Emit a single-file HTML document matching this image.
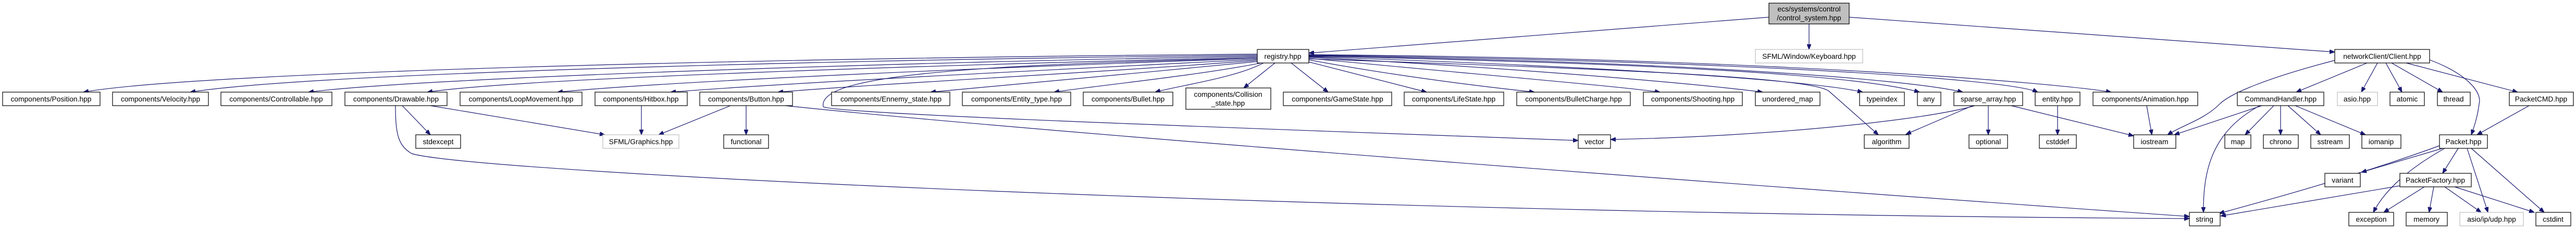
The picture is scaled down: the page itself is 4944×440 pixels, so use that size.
<!DOCTYPE html>
<html><head><meta charset="utf-8"><style>
html,body{margin:0;padding:0;background:#fff;}
svg{display:block;}
text{font-family:"Liberation Sans",sans-serif;font-size:13.8px;fill:#000;}
.b{fill:#fff;stroke:#000;stroke-width:1.2;}
.g{fill:#fff;stroke:#bfbfbf;stroke-width:1.2;}
.t{fill:#bfbfbf;stroke:#000;stroke-width:1.2;}
path.e{fill:none;stroke:#191970;stroke-width:1.2;marker-end:url(#a);}
</style></head><body>
<svg width="4944" height="440" viewBox="0 0 4944 440" xmlns="http://www.w3.org/2000/svg">
<defs><marker id="a" markerUnits="userSpaceOnUse" markerWidth="11" markerHeight="8" refX="10" refY="4" orient="auto"><path d="M0,0 L10,4 L0,8 z" fill="#191970" stroke="#191970"/></marker></defs>

<path class="e" d="M3395,33 L2512,102"/>
<path class="e" d="M3472,46 L3472,95"/>
<path class="e" d="M3549,33 L4481,100"/>

<path class="e" d="M2413,104 C1600,110 400,135 160,177"/>
<path class="e" d="M2413,106 C1600,115 600,140 365,177"/>
<path class="e" d="M2413,108 C1700,120 800,150 592,177"/>
<path class="e" d="M2413,110 C1800,125 1000,150 820,177"/>
<path class="e" d="M2413,112 C1900,130 1300,155 1070,177"/>
<path class="e" d="M2413,114 C2000,135 1500,160 1287,177"/>
<path class="e" d="M2413,116 C2100,140 1700,160 1493,177"/>
<path class="e" d="M2415,118 C2200,140 1950,160 1786,177"/>
<path class="e" d="M2420,121 C2300,145 2100,165 2023,177"/>
<path class="e" d="M2425,121 C2370,150 2260,165 2217,177"/>
<path class="e" d="M2447,121 L2387,169"/>
<path class="e" d="M2478,121 L2549,177"/>
<path class="e" d="M2512,119 L2738,177"/>
<path class="e" d="M2512,115 C2700,150 2880,170 2945,177"/>
<path class="e" d="M2512,112 C2800,140 3100,165 3186,177"/>
<path class="e" d="M2512,110 C2900,130 3250,160 3383,177"/>
<path class="e" d="M2512,109 C3000,125 3450,150 3575,177"/>
<path class="e" d="M2512,108 C3100,120 3550,140 3684,177"/>
<path class="e" d="M2512,107 C3200,118 3650,150 3767,177"/>
<path class="e" d="M2512,106 C3300,116 3850,150 3911,177"/>
<path class="e" d="M2512,105 C3400,112 3950,160 4052,177"/>
<path class="e" d="M2512,113 C3000,130 3470,145 3510,175 L3605,259"/>
<path class="e" d="M2413,112 C1800,125 1570,150 1580,205 C1600,220 2500,250 3029,270"/>

<path class="e" d="M759,203 C759,260 765,280 790,295 C900,330 2500,410 4202,420"/>
<path class="e" d="M772,203 L826,259"/>
<path class="e" d="M826,203 L1161,259"/>
<path class="e" d="M1231,203 L1231,259"/>
<path class="e" d="M1402,203 L1264,259"/>
<path class="e" d="M1432,203 L1432,259"/>
<path class="e" d="M1507,203 C2000,255 3400,360 4202,416"/>

<path class="e" d="M3790,203 C3700,230 3400,262 3091,268"/>
<path class="e" d="M3786,203 L3658,258"/>
<path class="e" d="M3816,203 L3816,259"/>
<path class="e" d="M3860,203 L4095,261"/>
<path class="e" d="M3949,203 L3949,259"/>
<path class="e" d="M4120,203 L4130,259"/>

<path class="e" d="M4481,116 C4350,150 4280,180 4260,200 C4230,230 4190,240 4160,259"/>
<path class="e" d="M4543,121 L4407,177"/>
<path class="e" d="M4563,121 L4532,177"/>
<path class="e" d="M4579,121 L4610,177"/>
<path class="e" d="M4590,121 L4688,177"/>
<path class="e" d="M4618,121 L4832,177"/>
<path class="e" d="M4663,115 C4730,140 4765,175 4758,200 C4755,225 4748,245 4743,259"/>

<path class="e" d="M4341,203 L4173,259"/>
<path class="e" d="M4337,203 C4250,250 4228,320 4229,408"/>
<path class="e" d="M4364,203 L4309,259"/>
<path class="e" d="M4377,203 L4377,259"/>
<path class="e" d="M4391,203 L4454,259"/>
<path class="e" d="M4405,203 L4540,259"/>
<path class="e" d="M4854,203 L4754,259"/>

<path class="e" d="M4682,280 C4600,310 4480,350 4259,410"/>
<path class="e" d="M4688,285 L4532,331"/>
<path class="e" d="M4692,285 C4630,320 4580,360 4555,408"/>
<path class="e" d="M4718,285 L4688,333"/>
<path class="e" d="M4735,285 L4775,408"/>
<path class="e" d="M4743,285 L4883,408"/>
<path class="e" d="M4606,357 L4262,415"/>
<path class="e" d="M4653,359 L4575,408"/>
<path class="e" d="M4671,359 L4662,408"/>
<path class="e" d="M4692,359 L4762,408"/>
<path class="e" d="M4711,359 L4864,408"/>

<g text-anchor="middle">
<rect class="t" x="3395" y="6" width="154" height="40"/><text x="3472" y="22">ecs/systems/control</text><text x="3472" y="39">/control_system.hpp</text>
<rect class="b" x="2413" y="95" width="99" height="26"/><text x="2462" y="113">registry.hpp</text>
<rect class="g" x="3369" y="95" width="206" height="26"/><text x="3472" y="113">SFML/Window/Keyboard.hpp</text>
<rect class="b" x="4481" y="95" width="182" height="26"/><text x="4572" y="113">networkClient/Client.hpp</text>

<rect class="b" x="5" y="177" width="187" height="26"/><text x="98" y="195">components/Position.hpp</text>
<rect class="b" x="216" y="177" width="184" height="26"/><text x="308" y="195">components/Velocity.hpp</text>
<rect class="b" x="424" y="177" width="213" height="26"/><text x="530" y="195">components/Controllable.hpp</text>
<rect class="b" x="662" y="177" width="196" height="26"/><text x="760" y="195">components/Drawable.hpp</text>
<rect class="b" x="883" y="177" width="234" height="26"/><text x="1000" y="195">components/LoopMovement.hpp</text>
<rect class="b" x="1142" y="177" width="177" height="26"/><text x="1230" y="195">components/Hitbox.hpp</text>
<rect class="b" x="1343" y="177" width="178" height="26"/><text x="1432" y="195">components/Button.hpp</text>
<rect class="b" x="1596" y="177" width="227" height="26"/><text x="1710" y="195">components/Ennemy_state.hpp</text>
<rect class="b" x="1847" y="177" width="208" height="26"/><text x="1951" y="195">components/Entity_type.hpp</text>
<rect class="b" x="2079" y="177" width="172" height="26"/><text x="2165" y="195">components/Bullet.hpp</text>
<rect class="b" x="2276" y="169" width="163" height="41"/><text x="2357" y="186">components/Collision</text><text x="2357" y="203">_state.hpp</text>
<rect class="b" x="2463" y="177" width="208" height="26"/><text x="2567" y="195">components/GameState.hpp</text>
<rect class="b" x="2695" y="177" width="191" height="26"/><text x="2790" y="195">components/LifeState.hpp</text>
<rect class="b" x="2911" y="177" width="218" height="26"/><text x="3020" y="195">components/BulletCharge.hpp</text>
<rect class="b" x="3154" y="177" width="190" height="26"/><text x="3249" y="195">components/Shooting.hpp</text>
<rect class="b" x="3369" y="177" width="124" height="26"/><text x="3431" y="195">unordered_map</text>
<rect class="b" x="3569" y="177" width="86" height="26"/><text x="3612" y="195">typeindex</text>
<rect class="b" x="3680" y="177" width="45" height="26"/><text x="3702" y="195">any</text>
<rect class="b" x="3750" y="177" width="132" height="26"/><text x="3816" y="195">sparse_array.hpp</text>
<rect class="b" x="3906" y="177" width="86" height="26"/><text x="3949" y="195">entity.hpp</text>
<rect class="b" x="4017" y="177" width="201" height="26"/><text x="4117" y="195">components/Animation.hpp</text>
<rect class="b" x="4294" y="177" width="166" height="26"/><text x="4377" y="195">CommandHandler.hpp</text>
<rect class="g" x="4486" y="177" width="77" height="26"/><text x="4524" y="195">asio.hpp</text>
<rect class="b" x="4587" y="177" width="66" height="26"/><text x="4620" y="195">atomic</text>
<rect class="b" x="4678" y="177" width="63" height="26"/><text x="4709" y="195">thread</text>
<rect class="b" x="4816" y="177" width="123" height="26"/><text x="4877" y="195">PacketCMD.hpp</text>

<rect class="b" x="798" y="259" width="86" height="26"/><text x="841" y="277">stdexcept</text>
<rect class="g" x="1157" y="259" width="146" height="26"/><text x="1230" y="277">SFML/Graphics.hpp</text>
<rect class="b" x="1389" y="259" width="86" height="26"/><text x="1432" y="277">functional</text>
<rect class="b" x="3029" y="259" width="62" height="26"/><text x="3060" y="277">vector</text>
<rect class="b" x="3578" y="259" width="86" height="26"/><text x="3621" y="277">algorithm</text>
<rect class="b" x="3779" y="259" width="74" height="26"/><text x="3816" y="277">optional</text>
<rect class="b" x="3914" y="259" width="71" height="26"/><text x="3949" y="277">cstddef</text>
<rect class="b" x="4095" y="259" width="81" height="26"/><text x="4135" y="277">iostream</text>
<rect class="b" x="4270" y="259" width="50" height="26"/><text x="4295" y="277">map</text>
<rect class="b" x="4344" y="259" width="67" height="26"/><text x="4377" y="277">chrono</text>
<rect class="b" x="4435" y="259" width="74" height="26"/><text x="4472" y="277">sstream</text>
<rect class="b" x="4533" y="259" width="75" height="26"/><text x="4570" y="277">iomanip</text>
<rect class="b" x="4682" y="259" width="92" height="26"/><text x="4728" y="277">Packet.hpp</text>

<rect class="b" x="4462" y="333" width="68" height="26"/><text x="4496" y="351">variant</text>
<rect class="b" x="4606" y="333" width="137" height="26"/><text x="4674" y="351">PacketFactory.hpp</text>

<rect class="b" x="4202" y="408" width="59" height="26"/><text x="4231" y="426">string</text>
<rect class="b" x="4508" y="408" width="86" height="26"/><text x="4551" y="426">exception</text>
<rect class="b" x="4618" y="408" width="79" height="26"/><text x="4657" y="426">memory</text>
<rect class="g" x="4721" y="408" width="122" height="26"/><text x="4782" y="426">asio/ip/udp.hpp</text>
<rect class="b" x="4867" y="408" width="67" height="26"/><text x="4900" y="426">cstdint</text>
</g>
</svg>
</body></html>
